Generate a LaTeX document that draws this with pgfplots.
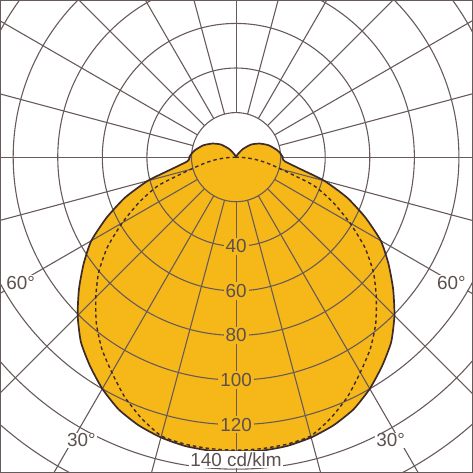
\documentclass[border=0pt]{standalone}
\usepackage{pgfplots}
\pgfplotsset{compat=1.18}
\usepackage{pgfplotstable}
\usepackage{fontspec}
\setmainfont{Liberation Sans}

\definecolor{lampfill}{RGB}{245,184,24}
\definecolor{gridcol}{RGB}{104,90,90}
\definecolor{edgecol}{RGB}{62,42,42}
\definecolor{txtcol}{RGB}{92,80,80}
\newcommand\lbl{\fontsize{19}{21}\selectfont}

% C0-C180 plane (solid, filled): angle a (deg, ccw from east), r in cd/klm
\pgfplotstableread{
a r
-270 0
-250 0.3
-240 1.5
-230 4.8
-220 8.8
-210 12.2
-200 15.6
-190 18.6
-185 19.9
-180 21
-178 21
-175 22
-170 28.5
-165 41
-160 53
-155 64
-150 75
-145 83.5
-140 92
-135 100.5
-130 108.3
-125 114.3
-120 120
-115 124.8
-110 128
-105 130.2
-100 131.6
-95 132.2
-90 132
-85 132.2
-80 131.6
-75 130.2
-70 128
-65 124.8
-60 120
-55 114.3
-50 108.3
-45 100.5
-40 92
-35 83.5
-30 75
-25 64
-20 53
-15 41
-10 28.5
-5 22
-2 21
0 21
5 19.9
10 18.6
20 15.6
30 12.2
40 8.8
50 4.8
60 1.5
70 0.3
90 0
}\planeA

% C90-C270 plane (dashed)
\pgfplotstableread{
a r
-180 0
-176.5 4.5
-173 9
-169.4 14
-165 21
-160 37
-155 48
-150 59
-145 70.5
-140 80.5
-135 89
-130 97.5
-125 105
-120 111.5
-115 118.5
-110 124.5
-105 129.5
-100 130.8
-95 131.3
-90 131.5
-85 131.3
-80 130.8
-75 129.5
-70 124.5
-65 118.5
-60 111.5
-55 105
-50 97.5
-45 89
-40 80.5
-35 70.5
-30 59
-25 48
-20 37
-15 21
-10.6 14
-7 9
-3.5 4.5
0 0
}\planeB

\begin{document}
\begin{tikzpicture}
\begin{axis}[
  x=2.235bp, y=2.235bp,
  xmin=-105.6, xmax=106.0, ymin=-141.4, ymax=70.2,
  scale only axis,
  xtick=\empty, ytick=\empty,
  axis line style={draw=gridcol, line width=1.4bp},
  clip mode=global,
]
  \addplot[draw=none, fill=lampfill, data cs=polar, smooth, tension=0.35] table[x=a, y=r] {\planeA};

  % polar grid: circles every 20 cd/klm, rays every 15 degrees
  \pgfplotsinvokeforeach{1,...,8}{
    \draw[gridcol, line width=1.1bp] (axis cs:0,0) circle[radius=#1*44.7bp];
  }
  \pgfplotsinvokeforeach{0,15,...,345}{
    \draw[gridcol, line width=1.1bp] ([shift={(#1:44.7bp)}]axis cs:0,0) -- ([shift={(#1:460bp)}]axis cs:0,0);
  }

  \addplot[edgecol, line width=1.4bp, dash pattern=on 3.5bp off 3bp, data cs=polar, smooth, tension=0.35] table[x=a, y=r] {\planeB};
  \addplot[edgecol, line width=1.7bp, data cs=polar, smooth, tension=0.35] table[x=a, y=r] {\planeA};

  \pgfplotsinvokeforeach{40,60,80,100,120}{
    \node[fill=lampfill, inner sep=2bp, text=txtcol, font=\lbl] at (axis cs:0,-#1) {#1};
  }
  \node[fill=white, inner sep=1.5bp, text=txtcol, font=\lbl] at (axis cs:0,-135.8) {140 cd/klm};
  \node[fill=white, inner sep=1bp, text=txtcol, font=\lbl] at (axis cs:-96.6,-56.4) {60°};
  \node[fill=white, inner sep=1bp, text=txtcol, font=\lbl] at (axis cs:96.6,-56.4) {60°};
  \node[fill=white, inner sep=1bp, text=txtcol, font=\lbl] at (axis cs:-69.4,-127) {30°};
  \node[fill=white, inner sep=1bp, text=txtcol, font=\lbl] at (axis cs:69.4,-127) {30°};
\end{axis}
\end{tikzpicture}
\end{document}
